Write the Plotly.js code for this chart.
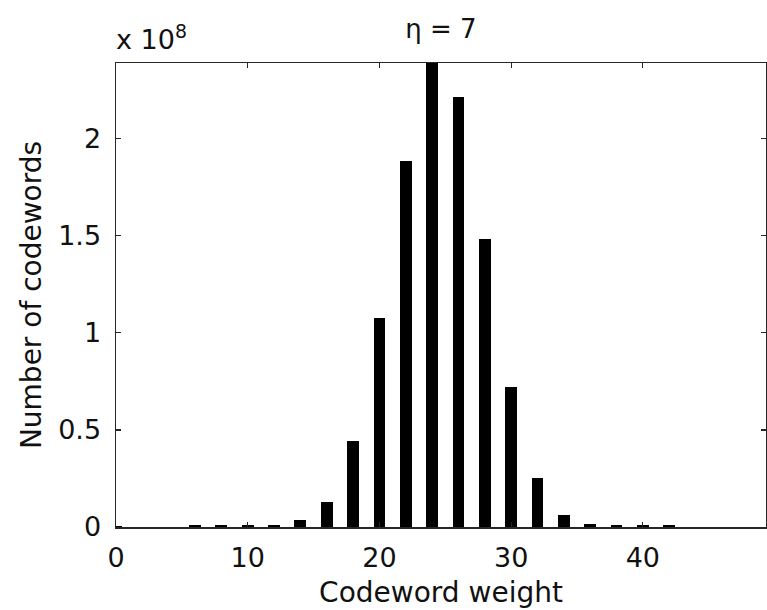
<!DOCTYPE html>
<html>
<head>
<meta charset="utf-8">
<script src="https://cdn.plot.ly/plotly-3.0.1.min.js"></script>
<style>html,body{margin:0;padding:0;background:#fff;}#chart{width:767px;height:610px;}</style>
</head>
<body>
<div id="chart"></div>
<script>
// Codeword weight (x) and number of codewords in units of 10^8 (y)
var weights = [0, 2, 4, 6, 8, 10, 12, 14, 16, 18, 20, 22, 24, 26, 28, 30, 32, 34, 36, 38, 40, 42];
var countsE8 = [0.006, 0, 0, 0.008, 0.01, 0.012, 0.012, 0.035, 0.13, 0.443, 1.077, 1.885, 2.40, 2.215, 1.485, 0.72, 0.25, 0.062, 0.015, 0.01, 0.01, 0.01];
var xTicks = [0, 10, 20, 30, 40];
var yTicks = [0, 0.5, 1, 1.5, 2];
var yTickText = ["0", "0.5", "1", "1.5", "2"];

var FONT = "DejaVu Sans, Liberation Sans, Arial, sans-serif";

var trace = {
  type: "bar",
  x: weights,
  y: countsE8,
  width: 0.9,
  marker: {color: "#000000", line: {width: 0}},
  hoverinfo: "x+y"
};

var axisCommon = {
  showline: true,
  linecolor: "#262626",
  linewidth: 1.5,
  mirror: "allticks",
  ticks: "inside",
  ticklen: 5,
  tickwidth: 1.2,
  tickcolor: "#262626",
  showgrid: false,
  zeroline: false,
  tickfont: {family: FONT, size: 27, color: "#111"}
};

var layout = {
  width: 767,
  height: 610,
  margin: {l: 116, r: 1, t: 63, b: 83},
  paper_bgcolor: "#ffffff",
  plot_bgcolor: "#ffffff",
  showlegend: false,
  bargap: 0,
  title: {
    text: "η = 7",
    font: {family: FONT, size: 26, color: "#111"},
    x: 0.5, xref: "paper", xanchor: "center",
    y: 0.953, yref: "container", yanchor: "middle"
  },
  xaxis: Object.assign({}, axisCommon, {
    range: [0, 49.35],
    tickvals: xTicks,
    ticktext: xTicks.map(String),
    ticklabelstandoff: 6,
    title: {text: "Codeword weight", font: {family: FONT, size: 28, color: "#111"}, standoff: 10}
  }),
  yaxis: Object.assign({}, axisCommon, {
    range: [0, 2.39],
    tickvals: yTicks,
    ticktext: yTickText,
    ticklabelstandoff: 8,
    title: {text: "Number of codewords", font: {family: FONT, size: 28, color: "#111"}, standoff: 8}
  }),
  annotations: [{
    text: "x 10<sup>8</sup>",
    xref: "paper", yref: "paper",
    x: 0, y: 1, xanchor: "left", yanchor: "bottom",
    yshift: 6, xshift: -2,
    showarrow: false,
    font: {family: FONT, size: 27, color: "#111"}
  }]
};

Plotly.newPlot("chart", [trace], layout, {displayModeBar: false, staticPlot: true});
</script>
</body>
</html>
